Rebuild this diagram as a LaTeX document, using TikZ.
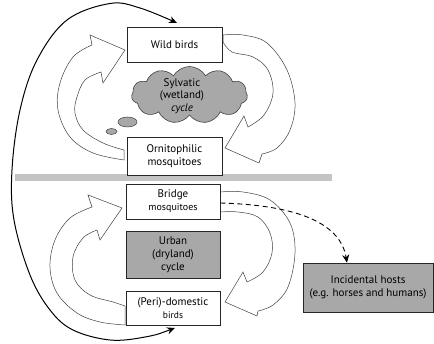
\documentclass[tikz,border=0pt]{standalone}
\usepackage{fontspec}
\setmainfont{PT Sans}
\usetikzlibrary{shapes.symbols,shapes.geometric,arrows.meta}
\definecolor{boxgray}{HTML}{A8A8A8}
\definecolor{bandgray}{HTML}{C4C4C4}
\begin{document}
\begin{tikzpicture}[x=1pt,y=-1pt,
  hostbox/.style={draw=black!85, line width=0.6pt, minimum width=95pt, inner sep=1pt, align=center, font=\fontsize{11}{13}\selectfont},
  blockarrow/.style={draw=black!75, line width=0.5pt, fill=white},
  puff/.style={ellipse, draw=black!75, line width=0.5pt, fill=boxgray, inner sep=0pt},
  >={Stealth[length=8pt,width=7pt]}]
\useasboundingbox (0,0) rectangle (434,344);
% separating band
\fill[bandgray] (15,174) rectangle (332,181);
% block arrows, sylvatic cycle
\draw[blockarrow] plot[smooth,tension=0.6] coordinates {(124,160) (93,153) (70,137) (58,110) (60,83) (73,57) (92,45)}
  -- (90,35) -- (125,50) -- (103,83) --
  plot[smooth,tension=0.6] coordinates {(101,72) (85,80) (77,97) (75,113) (83,130) (103,143) (124,150)} -- cycle;
\draw[blockarrow] plot[smooth,tension=0.6] coordinates {(223,35) (243,35) (267,43) (287,70) (295,103) (290,130) (277,148) (262,154)}
  -- (259,163) -- (225,148) -- (244,116) --
  plot[smooth,tension=0.6] coordinates {(248,127) (264,115) (273,93) (268,70) (253,57) (232,52) (223,42)} -- cycle;
% block arrows, urban cycle
\draw[blockarrow] plot[smooth,tension=0.6] coordinates {(125,325) (100,322) (77,313) (57,293) (50,267) (55,240) (70,218) (92,207)}
  -- (88,195) -- (122,208) -- (100,240) --
  plot[smooth,tension=0.6] coordinates {(97,230) (83,238) (73,257) (75,280) (90,295) (113,302) (125,306)} -- cycle;
\draw[blockarrow] plot[smooth,tension=0.6] coordinates {(220,192) (243,192) (270,200) (290,223) (295,253) (288,287) (273,305) (258,311)}
  -- (257,316) -- (225,302) -- (243,272) --
  plot[smooth,tension=0.6] coordinates {(247,282) (263,272) (272,253) (270,233) (258,217) (238,212) (220,212)} -- cycle;
% host boxes
\node[hostbox, fill=white, minimum height=35pt] (wild) at (174.5,44.5) {Wild birds};
\node[hostbox, fill=white, minimum height=38pt] (orni) at (174.5,156) {Ornitophilic\\mosquitoes};
\node[hostbox, fill=white, minimum width=94pt, minimum height=35pt] (bridge) at (173,201.5) {Bridge\\{\fontsize{10}{11}\selectfont mosquitoes}};
\node[hostbox, fill=boxgray, minimum width=94pt, minimum height=47pt] (urban) at (173,254.5) {Urban\\(dryland)\\cycle};
\node[hostbox, fill=white, minimum width=94pt, minimum height=34pt] (peri) at (173,308) {(Peri)-domestic\\{\fontsize{9.5}{10.5}\selectfont birds}};
\node[hostbox, fill=boxgray, minimum width=130pt, minimum height=49pt] (incid) at (368,287.5) {Incidental hosts\\(e.g. horses and humans)};
% cloud
\node[cloud, cloud puffs=11, cloud puff arc=120, aspect=2.05, draw=black!75, line width=0.6pt, fill=boxgray, minimum width=116pt, minimum height=57pt, inner sep=0pt] (cloud) at (189.5,95) {};
\node[align=center, font=\fontsize{11}{12.5}\selectfont, inner sep=0pt] (cloudlbl) at (182,96) {Sylvatic\\(wetland)\\\textit{cycle}};
\node[puff, minimum width=19pt, minimum height=10pt] (puffa) at (127.5,122) {};
\node[puff, minimum width=11pt, minimum height=6pt] (puffb) at (111.5,131.5) {};
% dashed link to incidental hosts
\draw[dashed, dash pattern=on 5pt off 3.5pt, line width=0.9pt, ->] ([yshift=-1.5pt]bridge.east) .. controls (290,205) and (340,220) .. ([xshift=-21pt]incid.north);
% long link between wild and peri-domestic birds
\draw[line width=1pt, <->] plot[smooth, tension=0.6] coordinates {(175,328) (145,337) (110,340) (73,330) (50,310) (30,275) (14,220) (12,170) (20,110) (37,60) (67,20) (110,3.5) (140,8) (177,23)};
\end{tikzpicture}
\end{document}
